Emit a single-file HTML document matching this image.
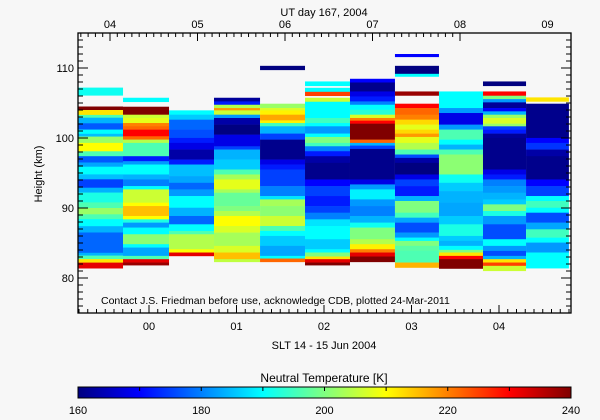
<!DOCTYPE html>
<html><head><meta charset="utf-8">
<style>
html,body{margin:0;padding:0;background:#f7f7f7;}
svg{display:block;font-family:"Liberation Sans",sans-serif;}
</style></head>
<body>
<svg id="chart" width="600" height="420" viewBox="0 0 600 420" xmlns="http://www.w3.org/2000/svg">
<rect x="0" y="0" width="600" height="420" fill="#f7f7f7"/>
<g id="cells"></g>
<g id="axes"></g>
<text x="324" y="16" font-size="11" text-anchor="middle">UT day 167, 2004</text>
<text x="324" y="349" font-size="11" text-anchor="middle">SLT 14 - 15 Jun 2004</text>
<text x="0" y="0" font-size="11" text-anchor="middle" transform="translate(42,174) rotate(-90)">Height (km)</text>
<text x="101" y="304" font-size="10.5">Contact J.S. Friedman before use, acknowledge CDB, plotted 24-Mar-2011</text>
<text x="324" y="382" font-size="12" text-anchor="middle">Neutral Temperature [K]</text>
<defs><linearGradient id="jet" x1="0" x2="1" y1="0" y2="0"></linearGradient></defs>
<rect x="78" y="387" width="493" height="11" fill="url(#jet)" stroke="#000" stroke-width="1"/>
<g id="cbticks"></g>
</svg>
<script>
// ---- data ----
var colStarts = [-0.811,-0.297,0.229,0.743,1.269,1.783,2.297,2.811,3.314,3.817,4.309];
var colWidth = 0.49;
var col1 = [[107.2,106.1,191],[104.5,104.0,240],[104.0,103.3,212],[103.3,102.9,196],[102.9,102.1,184],[102.1,101.2,177],[101.2,100.6,190],[100.6,100.2,185],[100.2,99.3,202],[99.3,98.1,210],[98.1,97.4,196],[97.4,96.5,177],[96.5,95.9,183],[95.9,94.8,190],[94.8,94.1,185],[94.1,92.9,175],[92.9,92.2,184],[92.2,90.8,192],[90.8,90.0,196],[90.0,89.1,202],[89.1,88.4,196],[88.4,87.4,190],[87.4,86.5,184],[86.5,83.6,178],[83.6,83.2,184],[83.2,82.7,196],[82.7,82.2,212],[82.2,81.4,232]];
var col2 = [[105.75,105.18,190],[104.47,103.33,240],[103.33,102.86,206],[102.86,102.14,208],[102.14,101.67,220],[101.67,101.2,222],[101.2,100.25,230],[100.25,99.77,222],[99.77,99.3,204],[99.3,97.4,196],[97.4,96.69,172],[96.69,96.21,182],[96.21,94.79,190],[94.79,94.08,184],[94.08,93.13,180],[93.13,92.66,190],[92.66,90.76,206],[90.76,90.28,210],[90.28,88.86,215],[88.86,88.38,210],[88.38,87.91,192],[87.91,87.2,182],[87.2,86.25,190],[86.25,84.83,201],[84.83,84.35,190],[84.35,83.16,183],[83.16,82.69,196],[82.69,82.21,232],[82.21,81.84,238]];
var col3 = [[103.95,103.33,190],[103.33,102.62,186],[102.62,101.2,178],[101.2,100.01,176],[100.01,99.3,172],[99.3,98.35,168],[98.35,96.92,163],[96.92,96.21,172],[96.21,94.55,185],[94.55,93.6,183],[93.6,92.66,178],[92.66,91.71,182],[91.71,90.04,190],[90.04,88.86,184],[88.86,87.67,178],[87.67,86.72,190],[86.72,86.25,196],[86.25,84.11,204],[84.11,83.64,210],[83.64,83.16,232]];
var col4 = [[105.75,105.23,162],[105.23,104.75,172],[104.75,104.28,204],[104.28,103.95,218],[103.95,103.33,206],[103.33,102.86,182],[102.86,101.91,163],[101.91,100.48,160],[100.48,98.82,168],[98.82,98.35,175],[98.35,96.92,184],[96.92,95.5,186],[95.5,94.79,196],[94.79,94.08,203],[94.08,92.66,208],[92.66,92.18,203],[92.18,90.28,198],[90.28,89.57,200],[89.57,88.86,204],[88.86,87.43,210],[87.43,86.49,207],[86.49,84.59,203],[84.59,83.64,207],[83.64,82.69,215],[82.69,82.31,205]];
var col5 = [[110.31,109.74,160],[104.9,104.28,202],[104.28,103.95,207],[103.95,103.33,211],[103.33,102.52,217],[102.52,102.14,211],[102.14,101.67,195],[101.67,100.63,184],[100.63,99.77,175],[99.77,96.92,161],[96.92,96.21,168],[96.21,95.5,172],[95.5,93.13,175],[93.13,91.71,180],[91.71,91.23,188],[91.23,90.28,203],[90.28,88.86,201],[88.86,87.43,206],[87.43,86.72,196],[86.72,86.01,190],[86.01,84.59,186],[84.59,83.16,183],[83.16,82.78,190],[82.78,82.31,222]];
var col6 = [[108.08,107.46,190],[107.17,106.6,190],[106.6,106.04,225],[105.75,105.18,206],[105.18,102.86,190],[102.86,102.14,195],[102.14,101.67,190],[101.67,100.63,182],[100.63,100.15,190],[100.15,99.3,200],[99.3,98.82,195],[98.82,98.11,180],[98.11,97.4,172],[97.4,96.45,163],[96.45,94.08,161],[94.08,93.13,170],[93.13,91.71,175],[91.71,90.28,172],[90.28,89.33,175],[89.33,88.38,180],[88.38,87.43,188],[87.43,85.54,190],[85.54,84.11,186],[84.11,83.64,190],[83.64,83.07,200],[83.07,82.69,212],[82.69,82.21,232],[82.21,81.84,240]];
var col7 = [[108.46,107.93,170],[107.93,106.65,161],[106.65,105.94,168],[105.94,105.23,172],[105.23,104.75,180],[104.75,104.04,190],[104.04,103.33,193],[103.33,102.86,207],[102.86,102.48,220],[102.48,102.05,230],[102.05,99.77,240],[99.77,99.3,222],[99.3,98.92,184],[98.92,98.44,175],[98.44,94.08,161],[94.08,93.37,168],[93.37,92.66,182],[92.66,91.23,189],[91.23,90.28,182],[90.28,88.86,180],[88.86,87.91,184],[87.91,87.2,191],[87.2,85.54,200],[85.54,84.83,204],[84.83,84.11,211],[84.11,83.64,220],[83.64,83.07,232],[83.07,82.31,240]];
var col8 = [[112.0,111.6,170],[110.31,109.17,160],[109.17,108.79,190],[106.65,106.08,238],[104.9,104.28,230],[104.28,103.33,222],[103.33,102.62,220],[102.62,101.91,213],[101.91,101.2,208],[101.2,100.63,213],[100.63,100.15,218],[100.15,99.3,208],[99.3,98.35,204],[98.35,97.64,196],[97.64,97.16,176],[97.16,96.45,163],[96.45,94.79,160],[94.79,94.08,168],[94.08,93.13,175],[93.13,91.71,172],[91.71,91.0,184],[91.0,89.33,200],[89.33,88.62,195],[88.62,87.91,183],[87.91,86.49,176],[86.49,85.77,182],[85.77,85.3,190],[85.3,84.59,200],[84.59,83.87,197],[83.87,82.21,196],[82.21,81.5,216]];
var col9 = [[106.65,104.28,190],[104.28,103.57,182],[103.57,101.91,168],[101.91,101.2,182],[101.2,99.77,196],[99.77,99.06,190],[99.06,98.35,184],[98.35,97.64,196],[97.64,94.79,201],[94.79,93.6,191],[93.6,92.42,186],[92.42,90.76,184],[90.76,88.86,183],[88.86,87.67,186],[87.67,86.01,192],[86.01,85.3,186],[85.3,84.59,184],[84.59,84.02,190],[84.02,83.64,200],[83.64,83.16,212],[83.16,82.69,230],[82.69,81.36,240]];
var col10 = [[108.08,107.46,160],[106.65,106.04,230],[106.04,105.56,200],[105.56,105.09,182],[105.09,104.28,162],[104.28,103.81,170],[103.81,103.33,184],[103.33,102.86,202],[102.86,102.05,207],[102.05,101.67,202],[101.67,101.2,175],[101.2,100.63,172],[100.63,100.01,162],[100.01,95.5,161],[95.5,94.79,168],[94.79,94.08,172],[94.08,93.13,180],[93.13,92.18,182],[92.18,91.23,184],[91.23,90.52,186],[90.52,89.57,200],[89.57,88.86,192],[88.86,87.67,182],[87.67,85.54,176],[85.54,84.59,190],[84.59,83.87,182],[83.87,83.16,176],[83.16,82.69,184],[82.69,82.21,212],[82.21,81.74,225],[81.74,81.03,206]];
var col11 = [[105.8,105.23,212],[104.9,100.01,161],[100.01,99.3,170],[99.3,98.35,174],[98.35,97.4,163],[97.4,94.08,161],[94.08,93.13,170],[93.13,91.71,175],[91.71,91.0,190],[91.0,90.04,195],[90.04,89.33,190],[89.33,87.91,176],[87.91,86.96,183],[86.96,85.77,195],[85.77,85.06,190],[85.06,83.64,182],[83.64,81.41,190]];
var columns = [col1,col2,col3,col4,col5,col6,col7,col8,col9,col10,col11];
var yTicks = [80,90,100,110];
var bottomTicks = ["00","01","02","03","04"];
var topTicks = ["04","05","06","07","08","09"];
var cbTicks = [160,180,200,220,240];
var tMin = 160, tMax = 240;

// ---- scales ----
var L=78, R=571, T=33, B=313;
var hMin=75, hMax=115;
function yS(h){ return T + (hMax-h)*(B-T)/(hMax-hMin); }
var pxPerHour = 87.5;
function xS(t){ return 149 + t*pxPerHour; }
function xTop(t){ return 110 + (t-4)*pxPerHour; }
function jet(v){
  var t=(v-tMin)/(tMax-tMin); t=Math.max(0,Math.min(1,t));
  function c(x){return Math.round(255*Math.max(0,Math.min(1,x)));}
  return "rgb("+c(1.5-Math.abs(4*t-3))+","+c(1.5-Math.abs(4*t-2))+","+c(1.5-Math.abs(4*t-1))+")";
}
var NS="http://www.w3.org/2000/svg";
function mk(tag,attrs,parent){var e=document.createElementNS(NS,tag);for(var k in attrs)e.setAttribute(k,attrs[k]);parent.appendChild(e);return e;}

// ---- cells ----
var cells=document.getElementById('cells');
columns.forEach(function(col,i){
  var x0=xS(colStarts[i]), x1=xS(colStarts[i]+colWidth);
  if(i<columns.length-1) x1=xS(colStarts[i+1]);
  else x1=Math.min(R-1,xS(colStarts[i]+colWidth));
  col.forEach(function(s){
    var y0=yS(s[0]), y1=yS(s[1]);
    var r=mk('rect',{x:x0.toFixed(2),y:y0.toFixed(2),width:(x1-x0).toFixed(2),height:(y1-y0+0.3).toFixed(2),fill:jet(s[2])},cells);
    
    
  });
});

// ---- axes ----
var ax=document.getElementById('axes');
var frame=mk('rect',{x:L,y:T,width:R-L,height:B-T,fill:'none',stroke:'#000','stroke-width':1.3},ax);


for(var h=76;h<=114;h++){
  var y=yS(h), len=(h%10===0)?10:5;
  mk('line',{x1:L,x2:L+len,y1:y,y2:y,stroke:'#000','stroke-width':1},ax);
  mk('line',{x1:R,x2:R-len,y1:y,y2:y,stroke:'#000','stroke-width':1},ax);
}
yTicks.forEach(function(v){
  var t=mk('text',{x:L-4,y:yS(v)+4,'font-size':11,'text-anchor':'end'},ax);
  t.textContent=String(v);
  
  
});
for(var k=-9;k<=49;k++){
  var t=k/10, x=xS(t);
  if(x<L||x>R) continue;
  var len=(k%10===0)?8:4;
  mk('line',{x1:x,x2:x,y1:B,y2:B-len,stroke:'#000','stroke-width':1},ax);
}
bottomTicks.forEach(function(lab,i){
  var t=mk('text',{x:xS(i),y:330,'font-size':11,'text-anchor':'middle'},ax);
  t.textContent=lab;
  
  
});
for(var k=36;k<=96;k++){
  var tt=k/12+0.0, x=xTop(tt);
  if(x<L||x>R) continue;
  var len=(k%12===0)?8:4;
  mk('line',{x1:x,x2:x,y1:T,y2:T+len,stroke:'#000','stroke-width':1},ax);
}
topTicks.forEach(function(lab,i){
  var t=mk('text',{x:xTop(4+i),y:28,'font-size':11,'text-anchor':'middle'},ax);
  t.textContent=lab;
  
  
});

// ---- colorbar ----
var g=document.getElementById('jet');
for(var i=0;i<=16;i++){
  mk('stop',{offset:(i/16),'stop-color':jet(tMin+(tMax-tMin)*i/16)},g);
}
var cb=document.getElementById('cbticks');
for(var v=170;v<240;v+=10){
  var x=78+(v-tMin)/(tMax-tMin)*493;
  mk('line',{x1:x,x2:x,y1:387,y2:391,stroke:'#000','stroke-width':1},cb);
}
cbTicks.forEach(function(v){
  var t=mk('text',{x:78+(v-tMin)/(tMax-tMin)*493,y:414,'font-size':11,'text-anchor':'middle'},cb);
  t.textContent=String(v);
  
  
});
</script>
</body></html>
